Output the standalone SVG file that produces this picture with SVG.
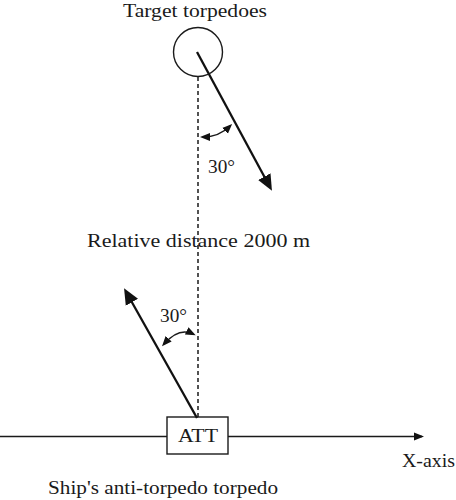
<svg xmlns="http://www.w3.org/2000/svg" width="456" height="500" viewBox="0 0 456 500">
<defs>
<style>
text{font-family:"Liberation Serif","Times New Roman",serif;fill:#1a1a1a;font-size:19px}
.thin{stroke:#1a1a1a;stroke-width:1.4;fill:none}
.thick{stroke:#111;stroke-width:2.3;fill:none}
.dash{stroke:#1a1a1a;stroke-width:1.5;stroke-dasharray:4 3;fill:none}
</style>
<marker id="big" markerUnits="userSpaceOnUse" markerWidth="16" markerHeight="16" refX="10" refY="7" orient="auto" viewBox="0 0 16 14">
<path d="M0,0 L16,7 L0,14 z" fill="#111"/>
</marker>
<marker id="axis" markerUnits="userSpaceOnUse" markerWidth="10" markerHeight="10" refX="8" refY="4" orient="auto" viewBox="0 0 10 8">
<path d="M0,0 L10,4 L0,8 z" fill="#111"/>
</marker>
<marker id="sm" markerUnits="userSpaceOnUse" markerWidth="10" markerHeight="9" refX="7" refY="4" orient="auto-start-reverse" viewBox="0 0 10 8">
<path d="M0,0 L10,4 L0,8 z" fill="#111"/>
</marker>
</defs>
<g id="connectors">
<line class="thin" x1="0" y1="436.5" x2="167" y2="436.5"/>
<line class="thin" x1="228" y1="436.5" x2="422" y2="436.5" marker-end="url(#axis)"/>
<line class="dash" x1="198" y1="77" x2="198" y2="417"/>
<line class="thick" x1="197" y1="52" x2="269.1" y2="185.5" marker-end="url(#big)"/>
<line class="thick" x1="197" y1="418" x2="127" y2="293.5" marker-end="url(#big)"/>
<path class="thin" d="M203,137 Q219,137 230,126" marker-start="url(#sm)" marker-end="url(#sm)"/>
<path class="thin" d="M164,344 Q179,327 193,334" marker-start="url(#sm)" marker-end="url(#sm)"/>
</g>
<g id="target">
<circle cx="198" cy="52" r="24.5" class="thin" fill="#fff"/>
<text x="123" y="17" textLength="144" lengthAdjust="spacingAndGlyphs">Target torpedoes</text>
</g>
<g id="att">
<rect x="167" y="417" width="61" height="37" class="thin" fill="#fff"/>
<text x="178" y="442" textLength="40" lengthAdjust="spacingAndGlyphs">ATT</text>
</g>
<g id="labels">
<text x="208" y="173" textLength="27" lengthAdjust="spacingAndGlyphs">30°</text>
<text x="160" y="322" textLength="27" lengthAdjust="spacingAndGlyphs">30°</text>
<text x="87" y="247" textLength="223" lengthAdjust="spacingAndGlyphs">Relative distance 2000 m</text>
<text x="402" y="467" textLength="53" lengthAdjust="spacingAndGlyphs">X-axis</text>
<text x="48" y="494" textLength="230" lengthAdjust="spacingAndGlyphs">Ship's anti-torpedo torpedo</text>
</g>
</svg>
